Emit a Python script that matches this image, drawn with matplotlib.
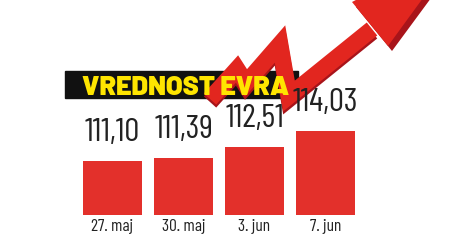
import matplotlib
matplotlib.use("Agg")
import matplotlib.pyplot as plt
from matplotlib.patches import Rectangle, Polygon
from matplotlib.lines import Line2D

dates = ["27. maj", "30. maj", "3. jun", "7. jun"]
values = [111.10, 111.39, 112.51, 114.03]
value_labels = ["111,10", "111,39", "112,51", "114,03"]
title = "VREDNOST EVRA"

narrow = ["Barlow Condensed", "Archivo Narrow", "DejaVu Sans"]

W, H = 468, 251
fig = plt.figure(figsize=(W / 100, H / 100), dpi=100)
fig.patch.set_facecolor("white")

# axes: x from pixel 77 to 361, y from pixel 216 (bottom) to 0 (top)
ax = fig.add_axes([77 / W, 35 / H, 284 / W, 216 / H])
ax.set_zorder(5)
ax.patch.set_alpha(0)
base = 105.8
scale = 10.2  # px per unit
ax.set_xlim(-0.5, 3.5)
ax.set_ylim(base, base + 216 / scale)
ax.axis("off")

xs = list(range(len(values)))
bar_color = "#e3302b"
ax.bar(xs, [v - base for v in values], bottom=base, width=0.83, color=bar_color, zorder=2)

for x, v, lab in zip(xs, values, value_labels):
    ax.annotate(lab, (x, v), xytext=(0, 15), textcoords="offset points",
                ha="center", va="baseline", fontsize=24, family=narrow,
                color="#222222", zorder=5)
    ax.annotate(dates[x], (x, base), xytext=(0, -2), textcoords="offset points",
                ha="center", va="top", fontsize=12.5, family=narrow,
                color="#222222", zorder=5)

def fx(px):
    return px / W

def fy(py):
    return 1 - py / H

# decorative title band
fig.patches.append(Rectangle((fx(65), fy(99)), fx(298) - fx(65), fy(72) - fy(99),
                             transform=fig.transFigure, color="#111111", zorder=3))

# decorative arrow (zigzag rising)
pts = [(210, 100), (237, 70), (246, 84), (280, 45), (289, 97), (372, 30)]
fig.lines.append(Line2D([fx(p[0]) for p in pts], [fy(p[1] + 3) for p in pts],
                        transform=fig.transFigure, color="#a8141a",
                        linewidth=12, solid_joinstyle="miter",
                        solid_capstyle="butt", zorder=4))
fig.lines.append(Line2D([fx(p[0]) for p in pts], [fy(p[1]) for p in pts],
                        transform=fig.transFigure, color="#e2261f",
                        linewidth=12, solid_joinstyle="miter",
                        solid_capstyle="butt", zorder=4))
head_shadow = [(356, 8), (392, 52), (448, -24), (416, -24)]
fig.patches.append(Polygon([(fx(a), fy(b)) for a, b in head_shadow], closed=True,
                           transform=fig.transFigure, facecolor="#a8141a",
                           edgecolor="none", zorder=4))
head = [(352, 3), (388, 47), (442, -27), (410, -27)]
fig.patches.append(Polygon([(fx(a), fy(b)) for a, b in head], closed=True,
                           transform=fig.transFigure, facecolor="#e2261f",
                           edgecolor="none", zorder=4))

fig.text(fx(82), fy(86), title, ha="left", va="center_baseline", fontsize=19.5,
         fontweight=900, family=["Barlow", "DejaVu Sans"], color="#ffe500", zorder=6)

fig.savefig("out.png", dpi=100, facecolor="white")
